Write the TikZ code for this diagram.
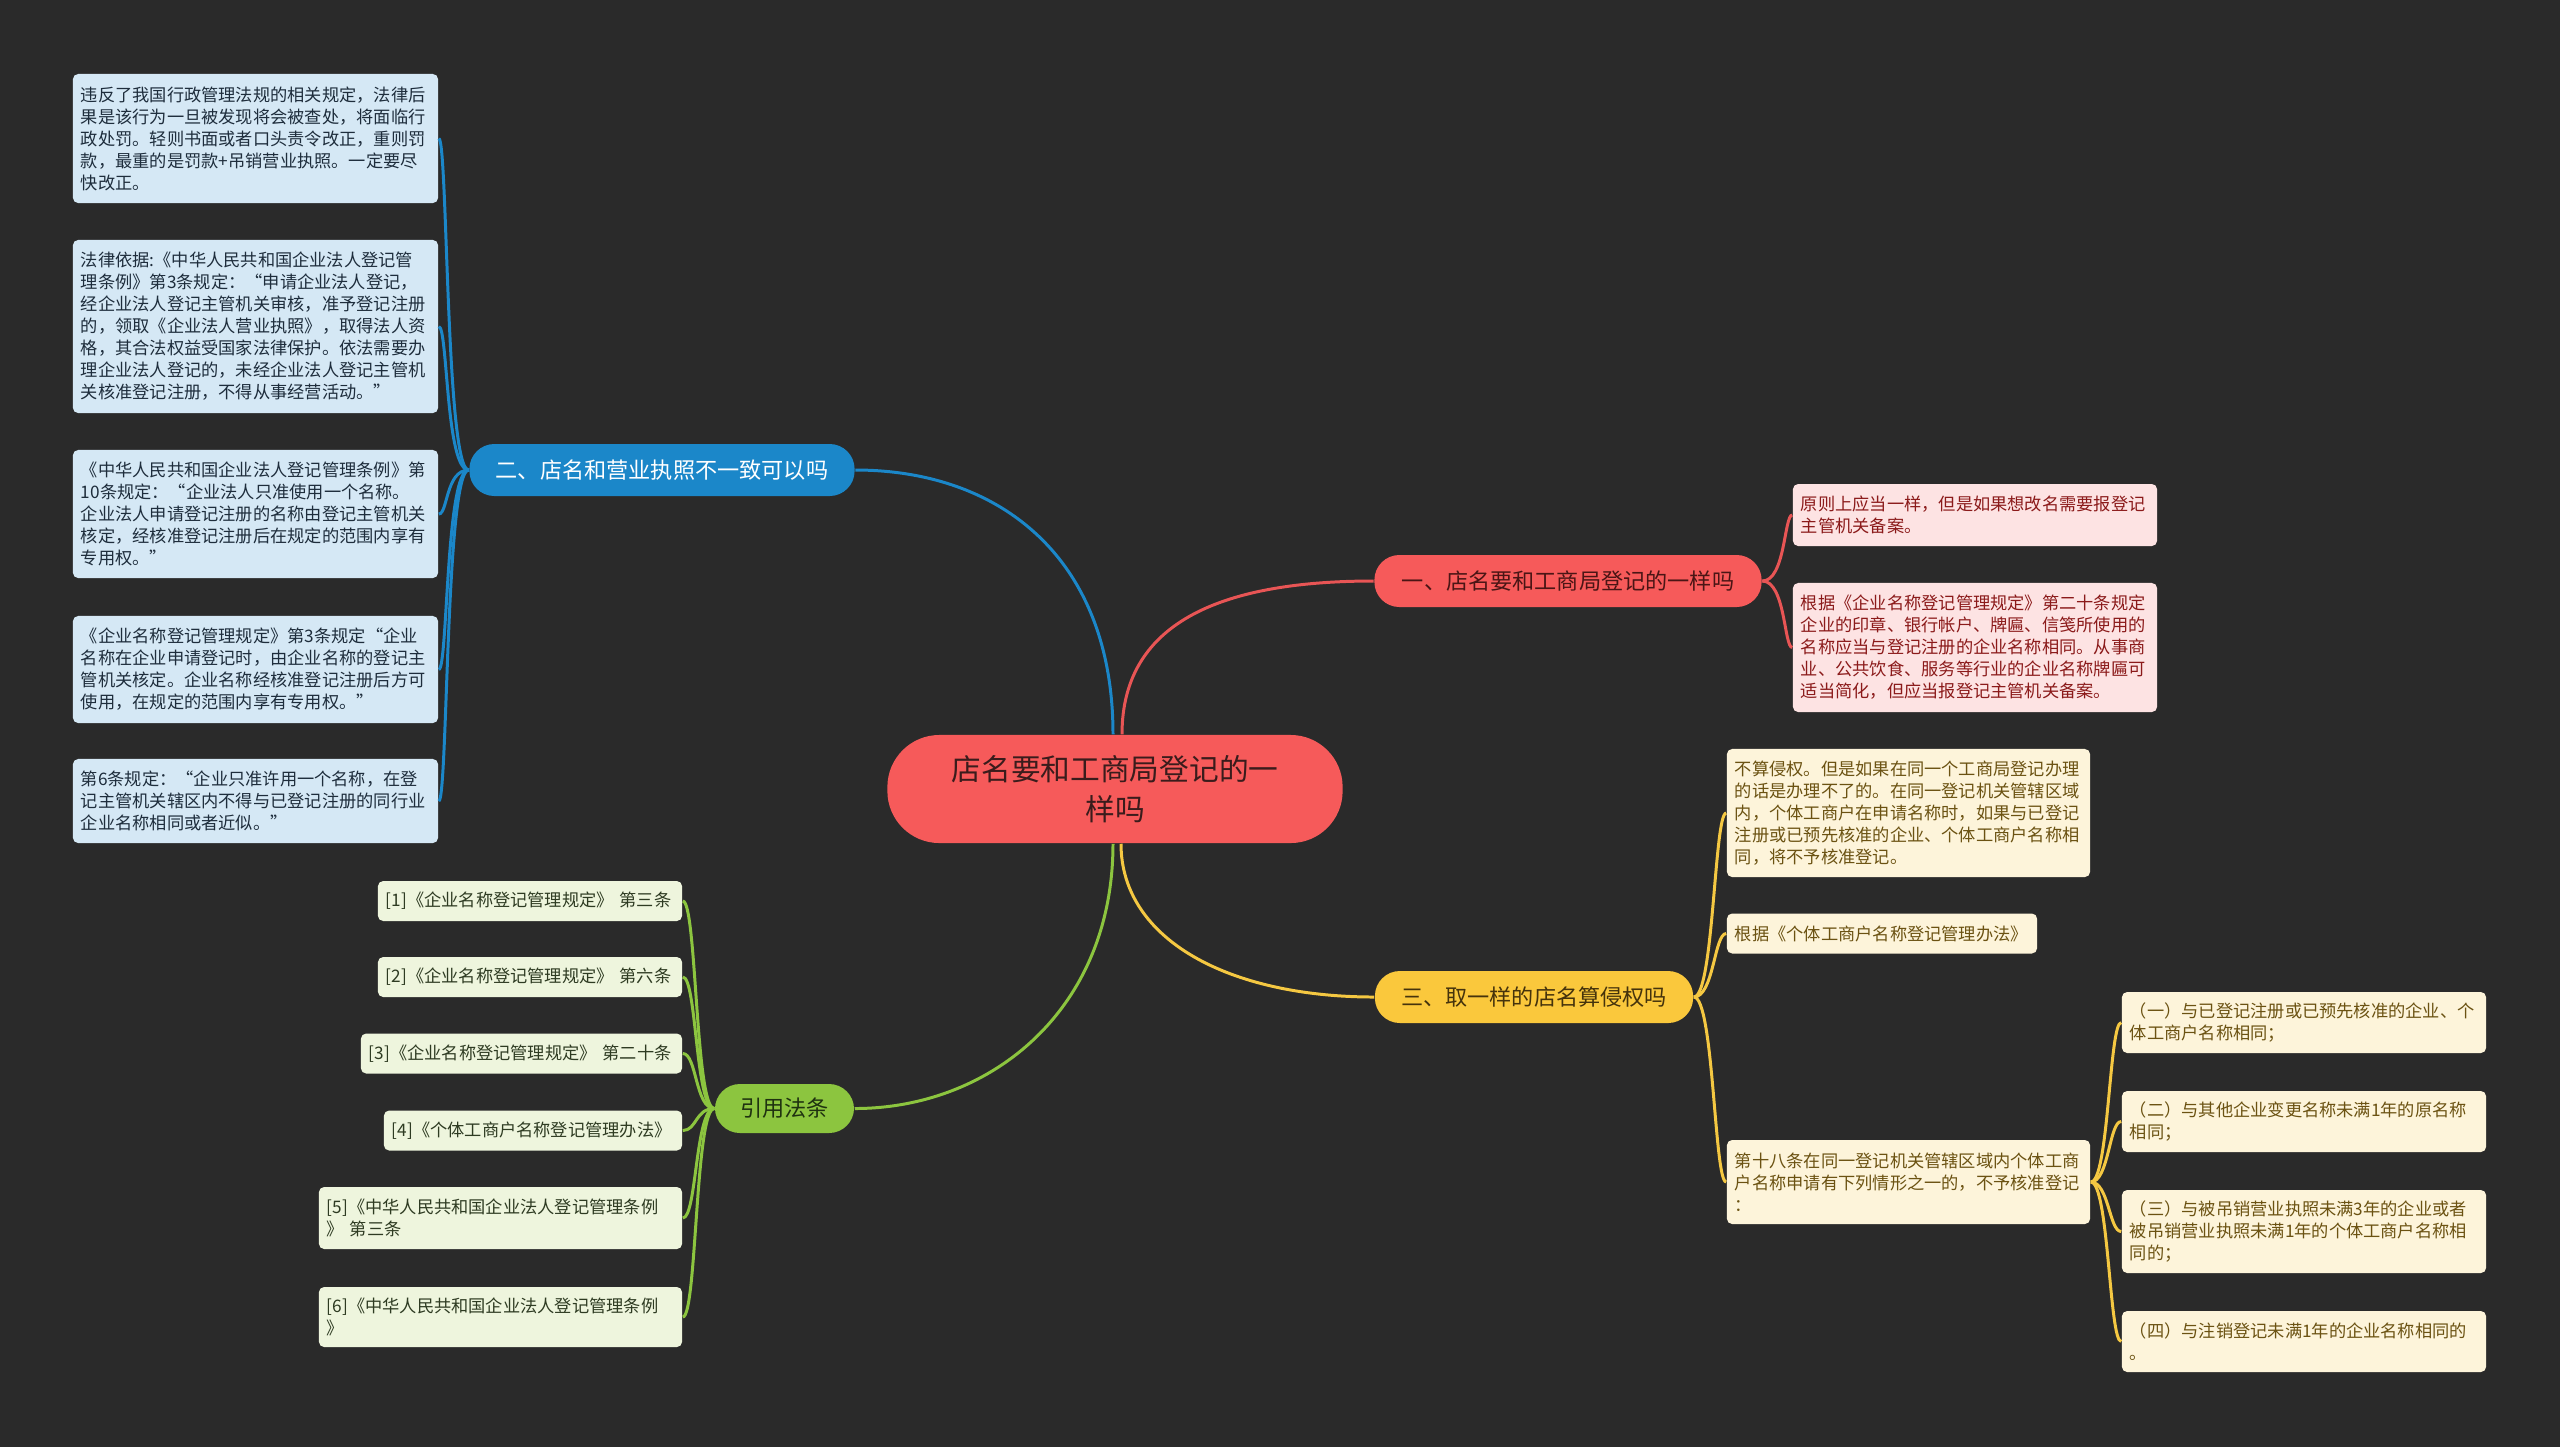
\documentclass[tikz,border=0pt]{standalone}
\usepackage{fontspec}
\newfontfamily\cjk{Noto Sans CJK SC}
\definecolor{bg}{HTML}{2A2A2A}
\definecolor{cred}{HTML}{F65A5A}
\definecolor{ctext}{HTML}{3A1C1C}
\definecolor{rtext}{HTML}{4A1515}
\definecolor{cblue}{HTML}{1B87C9}
\definecolor{cyel}{HTML}{FAC83C}
\definecolor{ytext}{HTML}{45330C}
\definecolor{cgreen}{HTML}{8CC53F}
\definecolor{gtext}{HTML}{1F3210}
\definecolor{bleaf}{HTML}{D5E8F5}
\definecolor{bltext}{HTML}{1E2D3C}
\definecolor{rleaf}{HTML}{FDE3E3}
\definecolor{rltext}{HTML}{8B1A1A}
\definecolor{yleaf}{HTML}{FDF4DA}
\definecolor{yltext}{HTML}{6B5212}
\definecolor{gleaf}{HTML}{EEF5DD}
\definecolor{gltext}{HTML}{2E3B22}
\definecolor{rline}{HTML}{E85555}
\definecolor{yline}{HTML}{F5C842}
\begin{document}
\begin{tikzpicture}[x=0.01cm,y=-0.01cm,
  centernode/.style={fill=cred, text=ctext, rounded corners=0.52cm, minimum width=4.55cm, minimum height=1.08cm, align=center, inner sep=0pt, font=\cjk\fontsize{8.45pt}{11.4pt}\selectfont},
  branch/.style={rounded corners=0.25cm, minimum height=0.52cm, inner sep=0pt, font=\cjk\fontsize{6.3pt}{7.5pt}\selectfont},
  leaf/.style={rounded corners=1.5pt, inner xsep=0.08cm, inner ysep=0pt, align=left, font=\cjk\fontsize{4.9pt}{6.26pt}\selectfont},
  bleafs/.style={leaf, fill=bleaf, text=bltext, text width=3.49cm},
  rleafs/.style={leaf, fill=rleaf, text=rltext, text width=3.48cm},
  yleafs/.style={leaf, fill=yleaf, text=yltext},
  gleafs/.style={leaf, fill=gleaf, text=gltext},
  link/.style={line width=0.85pt}
]
\useasboundingbox (0,0) rectangle (2560,1447);
\fill[bg] (0,0) rectangle (2560,1447);

% center and branches
\node[centernode] (c) at (1115,789) {店名要和工商局登记的一\\样吗};
\node[branch, fill=cblue, text=white, minimum width=3.85cm] (b2) at (662,470) {二、店名和营业执照不一致可以吗};
\node[branch, fill=cred, text=rtext, minimum width=3.87cm] (b1) at (1568,581) {一、店名要和工商局登记的一样吗};
\node[branch, fill=cyel, text=ytext, minimum width=3.18cm] (b3) at (1534,997) {三、取一样的店名算侵权吗};
\node[branch, fill=cgreen, text=gtext, minimum width=1.39cm, minimum height=0.49cm] (b4) at (784.5,1108.5) {引用法条};

% blue leaves
\node[bleafs, minimum height=1.29cm] (l1) at (255.5,138.5) {违反了我国行政管理法规的相关规定，法律后\\果是该行为一旦被发现将会被查处，将面临行\\政处罚。轻则书面或者口头责令改正，重则罚\\款，最重的是罚款+吊销营业执照。一定要尽\\快改正。};
\node[bleafs, minimum height=1.73cm] (l2) at (255.5,326.5) {法律依据:《中华人民共和国企业法人登记管\\理条例》第3条规定：“申请企业法人登记，\\经企业法人登记主管机关审核，准予登记注册\\的，领取《企业法人营业执照》，取得法人资\\格，其合法权益受国家法律保护。依法需要办\\理企业法人登记的，未经企业法人登记主管机\\关核准登记注册，不得从事经营活动。”};
\node[bleafs, minimum height=1.28cm] (l3) at (255.5,514) {《中华人民共和国企业法人登记管理条例》第\\10条规定：“企业法人只准使用一个名称。\\企业法人申请登记注册的名称由登记主管机关\\核定，经核准登记注册后在规定的范围内享有\\专用权。”};
\node[bleafs, minimum height=1.07cm] (l4) at (255.5,669.5) {《企业名称登记管理规定》第3条规定“企业\\名称在企业申请登记时，由企业名称的登记主\\管机关核定。企业名称经核准登记注册后方可\\使用，在规定的范围内享有专用权。”};
\node[bleafs, minimum height=0.84cm] (l5) at (255.5,801) {第6条规定：“企业只准许用一个名称，在登\\记主管机关辖区内不得与已登记注册的同行业\\企业名称相同或者近似。”};

% red leaves
\node[rleafs, minimum height=0.62cm] (r1) at (1975,515) {原则上应当一样，但是如果想改名需要报登记\\主管机关备案。};
\node[rleafs, minimum height=1.29cm] (r2) at (1975,647.5) {根据《企业名称登记管理规定》第二十条规定\\企业的印章、银行帐户、牌匾、信笺所使用的\\名称应当与登记注册的企业名称相同。从事商\\业、公共饮食、服务等行业的企业名称牌匾可\\适当简化，但应当报登记主管机关备案。};

% yellow leaves
\node[yleafs, text width=3.47cm, minimum height=1.28cm] (y1) at (1908.5,813) {不算侵权。但是如果在同一个工商局登记办理\\的话是办理不了的。在同一登记机关管辖区域\\内，个体工商户在申请名称时，如果与已登记\\注册或已预先核准的企业、个体工商户名称相\\同，将不予核准登记。};
\node[yleafs, text width=2.94cm, minimum height=0.40cm] (y2) at (1882,933.5) {根据《个体工商户名称登记管理办法》};
\node[yleafs, text width=3.47cm, minimum height=0.84cm] (y3) at (1908.5,1182) {第十八条在同一登记机关管辖区域内个体工商\\户名称申请有下列情形之一的，不予核准登记\\：};
\node[yleafs, text width=3.48cm, minimum height=0.61cm] (s1) at (2304,1022.5) {（一）与已登记注册或已预先核准的企业、个\\体工商户名称相同；};
\node[yleafs, text width=3.48cm, minimum height=0.61cm] (s2) at (2304,1121.5) {（二）与其他企业变更名称未满1年的原名称\\相同；};
\node[yleafs, text width=3.48cm, minimum height=0.83cm] (s3) at (2304,1231.5) {（三）与被吊销营业执照未满3年的企业或者\\被吊销营业执照未满1年的个体工商户名称相\\同的；};
\node[yleafs, text width=3.48cm, minimum height=0.61cm] (s4) at (2304,1341.5) {（四）与注销登记未满1年的企业名称相同的\\。};

% green leaves
\node[gleafs, text width=2.88cm, minimum height=0.40cm] (g1) at (530,901) {[1]《企业名称登记管理规定》 第三条};
\node[gleafs, text width=2.88cm, minimum height=0.40cm] (g2) at (530,977) {[2]《企业名称登记管理规定》 第六条};
\node[gleafs, text width=3.05cm, minimum height=0.40cm] (g3) at (521.5,1053.5) {[3]《企业名称登记管理规定》 第二十条};
\node[gleafs, text width=2.82cm, minimum height=0.40cm] (g4) at (533,1130.5) {[4]《个体工商户名称登记管理办法》};
\node[gleafs, text width=3.47cm, minimum height=0.62cm] (g5) at (500.5,1218) {[5]《中华人民共和国企业法人登记管理条例\\》 第三条};
\node[gleafs, text width=3.47cm, minimum height=0.60cm] (g6) at (500.5,1317) {[6]《中华人民共和国企业法人登记管理条例\\》};

% main connectors
\draw[link, cblue] ([xshift=-0.02cm]c.north) .. controls +(0,-176) and +(145,0) .. (b2.east);
\draw[link, rline] ([xshift=0.07cm]c.north) .. controls +(0,-116) and +(-145,0) .. (b1.west);
\draw[link, yline] ([xshift=0.06cm]c.south) .. controls +(0,96) and +(-145,0) .. (b3.west);
\draw[link, cgreen] ([xshift=-0.02cm]c.south) .. controls +(0,166) and +(136,0) .. (b4.east);

% blue leaf connectors
\foreach \n in {l1,l2,l3,l4,l5}
  \draw[link, cblue] (b2.west) .. controls +(-23,0) and +(9,0) .. (\n.east);
% red leaf connectors
\foreach \n in {r1,r2}
  \draw[link, rline] (b1.east) .. controls +(23,0) and +(-8,0) .. (\n.west);
% yellow leaf connectors
\foreach \n in {y1,y2,y3}
  \draw[link, yline] (b3.east) .. controls +(20,0) and +(-12,0) .. (\n.west);
\foreach \n in {s1,s2,s3,s4}
  \draw[link, yline] (y3.east) .. controls +(18,0) and +(-12,0) .. (\n.west);
% green leaf connectors
\foreach \n in {g1,g2,g3,g4,g5,g6}
  \draw[link, cgreen] (b4.west) .. controls +(-19,0) and +(14,0) .. (\n.east);
\end{tikzpicture}
\end{document}
